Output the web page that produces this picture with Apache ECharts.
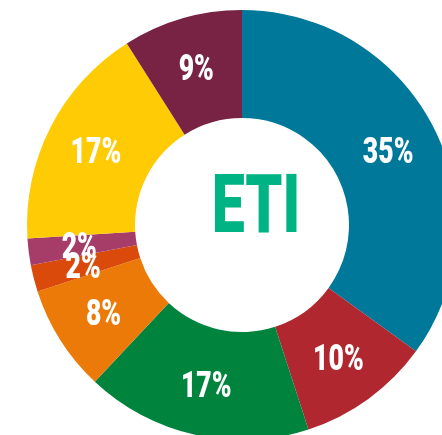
<!DOCTYPE html>
<html>
<head>
<meta charset="utf-8">
<script src="https://cdn.jsdelivr.net/npm/echarts@6/dist/echarts.min.js"></script>
<style>
  html, body { margin: 0; padding: 0; background: #fff; }
  #chart { width: 442px; height: 435px; }
</style>
</head>
<body>
<div id="chart"></div>
<script>
var names = ['a', 'b', 'c', 'd', 'e', 'f', 'g', 'h'];
var values = [35, 10, 17, 8, 2, 2, 17, 9];
var colors = ['#00789A', '#B0272F', '#00843D', '#EC7A08', '#DA4A0A', '#A63C68', '#FFCB05', '#782343'];

var chart = echarts.init(document.getElementById('chart'));

var data = values.map(function (v, i) {
  return { name: names[i], value: v, itemStyle: { color: colors[i] } };
});

chart.setOption({
  animation: false,
  graphic: [{
    type: 'text',
    x: 256, y: 211,
    scaleX: 0.72,
    style: {
      text: 'ETI',
      fill: '#00B384',
      font: '900 82px Roboto',
      textAlign: 'center',
      textVerticalAlign: 'middle'
    }
  }],
  series: [{
    type: 'pie',
    center: [242, 225],
    radius: [107, 215],
    startAngle: 90,
    clockwise: true,
    avoidLabelOverlap: false,
    data: data,
    label: {
      show: true,
      position: 'inside',
      formatter: '{c}%',
      color: '#fff',
      fontSize: 37,
      fontWeight: 900,
      fontFamily: 'Roboto'
    },
    labelLayout: { hideOverlap: false, dy: 3 },
    labelLine: { show: false }
  }]
});

// squeeze the slice labels to a condensed look
chart.getZr().storage.getDisplayList(true).forEach(function (el) {
  var t = el.getTextContent && el.getTextContent();
  if (t) {
    t.scaleX = 0.72;
    t.markRedraw();
  }
});
chart.getZr().refreshImmediately();
</script>
</body>
</html>
